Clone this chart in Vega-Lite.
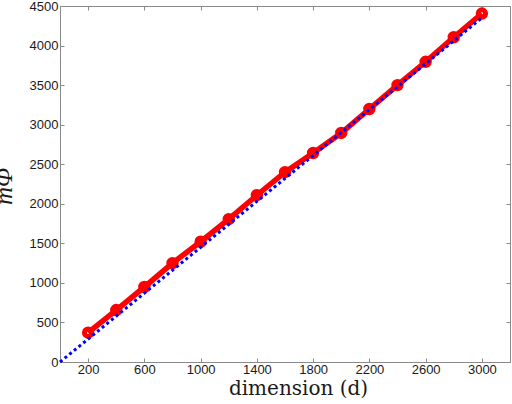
{
  "$schema": "https://vega.github.io/schema/vega-lite/v6.json",
  "width": 450,
  "height": 356,
  "autosize": "none",
  "padding": {"left": 60, "top": 6, "right": 2, "bottom": 42},
  "background": "white",
  "config": {
    "view": {"stroke": "#8a8a8a", "strokeWidth": 1},
    "axis": {
      "domainColor": "#8a8a8a",
      "tickColor": "#8a8a8a",
      "tickSize": -4,
      "grid": false,
      "format": "d",
      "labelFont": "Liberation Sans",
      "labelFontSize": 13,
      "labelColor": "#1a1a1a",
      "titleFont": "DejaVu Serif",
      "titleFontWeight": "normal",
      "titleColor": "#1a1a1a"
    }
  },
  "datasets": {
    "red": [
      {"d": 200, "v": 370},
      {"d": 400, "v": 657},
      {"d": 600, "v": 948},
      {"d": 800, "v": 1250},
      {"d": 1000, "v": 1520},
      {"d": 1200, "v": 1805},
      {"d": 1400, "v": 2108},
      {"d": 1600, "v": 2400},
      {"d": 1800, "v": 2642},
      {"d": 2000, "v": 2895},
      {"d": 2200, "v": 3198},
      {"d": 2400, "v": 3500},
      {"d": 2600, "v": 3795},
      {"d": 2800, "v": 4105},
      {"d": 3000, "v": 4405}
    ],
    "blue": [
      {"d": 0, "v": 0},
      {"d": 600, "v": 870},
      {"d": 1200, "v": 1740},
      {"d": 1800, "v": 2610},
      {"d": 2400, "v": 3480},
      {"d": 3000, "v": 4350}
    ]
  },
  "resolve": {"axis": {"x": "independent", "y": "independent"}},
  "layer": [
    {
      "data": {"name": "red"},
      "mark": {"type": "line", "color": "#ff0000", "strokeWidth": 5.5},
      "encoding": {
        "x": {"field": "d", "type": "quantitative",
          "scale": {"domain": [0, 3200], "nice": false, "zero": false},
          "axis": {"orient": "bottom", "values": [200, 600, 1000, 1400, 1800, 2200, 2600, 3000],
            "title": "dimension (d)", "titleFontSize": 20, "titlePadding": 2, "titleX": 238, "labelPadding": 5}},
        "y": {"field": "v", "type": "quantitative",
          "scale": {"domain": [0, 4500], "nice": false, "zero": false},
          "axis": {"orient": "left", "values": [0, 500, 1000, 1500, 2000, 2500, 3000, 3500, 4000, 4500],
            "title": "mΦ", "titleFont": "Liberation Serif", "titleFontSize": 25, "titleFontStyle": "italic", "titleX": -49, "titleY": 180, "titleAngle": -90, "titleBaseline": "alphabetic", "labelPadding": 6}}
      }
    },
    {
      "data": {"name": "red"},
      "mark": {"type": "point", "filled": false, "stroke": "#ff0000", "strokeWidth": 5, "size": 55, "opacity": 1},
      "encoding": {
        "x": {"field": "d", "type": "quantitative", "axis": null},
        "y": {"field": "v", "type": "quantitative", "axis": null}
      }
    },
    {
      "data": {"name": "blue"},
      "mark": {"type": "line", "color": "#0000ff", "strokeWidth": 3, "strokeDash": [3, 3]},
      "encoding": {
        "x": {"field": "d", "type": "quantitative", "axis": null},
        "y": {"field": "v", "type": "quantitative", "axis": null}
      }
    },
    {
      "data": {"name": "blue"},
      "mark": {"type": "point", "opacity": 0},
      "encoding": {
        "x": {"field": "d", "type": "quantitative",
          "axis": {"orient": "top", "values": [200, 600, 1000, 1400, 1800, 2200, 2600, 3000], "labels": false, "title": null}},
        "y": {"field": "v", "type": "quantitative",
          "axis": {"orient": "right", "values": [0, 500, 1000, 1500, 2000, 2500, 3000, 3500, 4000, 4500], "labels": false, "title": null}}
      }
    }
  ]
}
